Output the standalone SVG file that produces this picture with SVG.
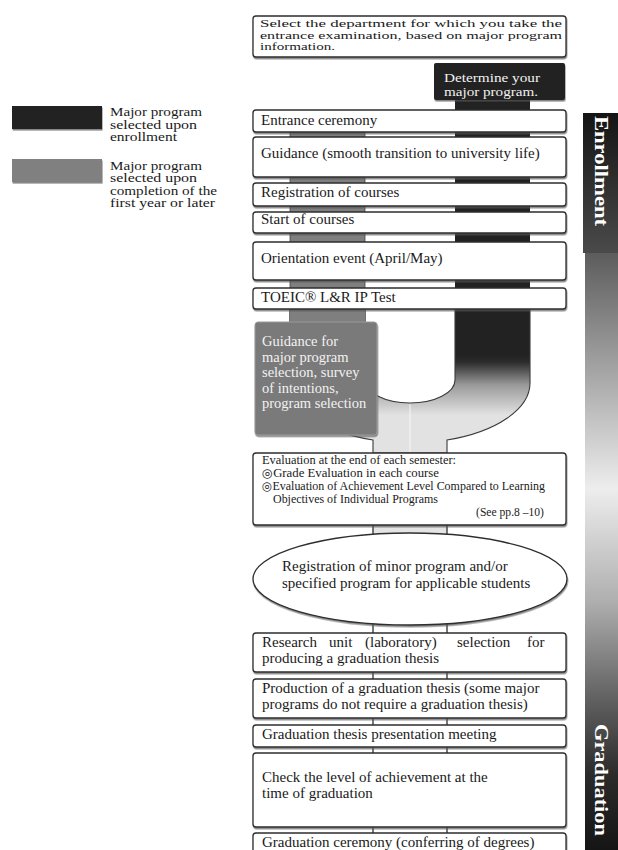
<svg xmlns="http://www.w3.org/2000/svg" width="618" height="850" viewBox="0 0 618 850">
<defs>
  <style>
    text { font-family: "Liberation Serif", "DejaVu Serif", "Noto Sans CJK JP", serif; fill: #1a1a1a; }
    .t15 { font-size: 15px; }
    .t14 { font-size: 14.5px; }
    .t13 { font-size: 13px; }
    .t11 { font-size: 11px; }
    .ev { font-size: 11.6px; }
    .leg { font-size: 12px; }
    .box { fill: #ffffff; stroke: #2e2e2e; stroke-width: 1.3; filter: url(#sh); }
    .tick { stroke: #2e2e2e; stroke-width: 1.3; }
    .side { font-size: 19px; font-weight: bold; fill: #ffffff; }
    .wt { fill: #f2f2f2; }
  </style>
  <filter id="sh" x="-5%" y="-20%" width="110%" height="150%">
    <feDropShadow dx="0.6" dy="1.6" stdDeviation="0.6" flood-color="#555" flood-opacity="0.7"/>
  </filter>
  <linearGradient id="ug" gradientUnits="userSpaceOnUse" x1="0" y1="355" x2="0" y2="415">
    <stop offset="0" stop-color="#222222"/>
    <stop offset="0.12" stop-color="#2c2c2c"/>
    <stop offset="0.5" stop-color="#9a9a9a"/>
    <stop offset="1" stop-color="#e2e2e2"/>
  </linearGradient>
  <linearGradient id="sg" gradientUnits="userSpaceOnUse" x1="0" y1="113" x2="0" y2="850">
    <stop offset="0" stop-color="#1a1a1a"/>
    <stop offset="0.19" stop-color="#5c5c5c"/>
    <stop offset="0.36" stop-color="#a9a9a9"/>
    <stop offset="0.51" stop-color="#ededed"/>
    <stop offset="0.66" stop-color="#b0b0b0"/>
    <stop offset="0.8" stop-color="#5e5e5e"/>
    <stop offset="0.9" stop-color="#2a2a2a"/>
    <stop offset="1" stop-color="#151515"/>
  </linearGradient>
  <linearGradient id="eg" x1="0" y1="0" x2="0" y2="1">
    <stop offset="0" stop-color="#141414"/>
    <stop offset="1" stop-color="#4a4a4a"/>
  </linearGradient>
</defs>

<rect width="618" height="850" fill="#ffffff"/>

<!-- sidebar -->
<g id="sidebar">
  <rect x="585" y="113" width="33" height="737" fill="url(#sg)"/>
  <rect x="583" y="113" width="35" height="140" fill="url(#eg)"/>
  <text class="side" transform="translate(595,116) rotate(90)" textLength="110" lengthAdjust="spacingAndGlyphs">Enrollment</text>
  <text class="side" transform="translate(595,724) rotate(90)" textLength="112" lengthAdjust="spacingAndGlyphs">Graduation</text>
</g>

<!-- legend -->
<g id="legend">
  <rect x="12" y="106" width="90" height="23" fill="#222222" filter="url(#sh)"/>
  <text class="leg" x="110" y="116" textLength="92" lengthAdjust="spacingAndGlyphs">Major program</text>
  <text class="leg" x="110" y="128.5" textLength="87" lengthAdjust="spacingAndGlyphs">selected upon</text>
  <text class="leg" x="110" y="141" textLength="67" lengthAdjust="spacingAndGlyphs">enrollment</text>
  <rect x="12" y="159" width="90" height="23" fill="#808080" filter="url(#sh)"/>
  <text class="leg" x="110" y="169.5" textLength="92" lengthAdjust="spacingAndGlyphs">Major program</text>
  <text class="leg" x="110" y="182" textLength="87" lengthAdjust="spacingAndGlyphs">selected upon</text>
  <text class="leg" x="110" y="194.5" textLength="107" lengthAdjust="spacingAndGlyphs">completion of the</text>
  <text class="leg" x="110" y="207" textLength="105" lengthAdjust="spacingAndGlyphs">first year or later</text>
</g>

<!-- connectors / flow bands -->
<g id="connectors">
  <rect x="455" y="100" width="75" height="212" fill="#222222"/>
  <rect x="290" y="132" width="75" height="192" fill="#7f7f7f" stroke="#444" stroke-width="0.8"/>
  <path d="M 455 309 V 380 A 45 23 0 0 1 365 380 V 309 H 290 V 383 A 120 60 0 0 0 373 440 V 453 H 447 V 440 A 120 60 0 0 0 530 383 V 309 Z" fill="url(#ug)" stroke="#3a3a3a" stroke-width="1.1"/>
  <rect x="290" y="305" width="75" height="19" fill="#7f7f7f"/>
  <line x1="410" y1="404" x2="410" y2="452" stroke="#f7f7f7" stroke-width="1"/>
  <rect x="373" y="520" width="74" height="16" fill="#e4e4e4" stroke="#2e2e2e" stroke-width="1.3"/>
  <line class="tick" x1="373" y1="620" x2="373" y2="634"/>
  <line class="tick" x1="447" y1="620" x2="447" y2="634"/>
  <line class="tick" x1="373" y1="671" x2="373" y2="680"/>
  <line class="tick" x1="447" y1="671" x2="447" y2="680"/>
  <line class="tick" x1="373" y1="717" x2="373" y2="726"/>
  <line class="tick" x1="447" y1="717" x2="447" y2="726"/>
  <line class="tick" x1="373" y1="746" x2="373" y2="754"/>
  <line class="tick" x1="447" y1="746" x2="447" y2="754"/>
  <line class="tick" x1="373" y1="826" x2="373" y2="834"/>
  <line class="tick" x1="447" y1="826" x2="447" y2="834"/>
</g>

<g id="n-select">
  <rect class="box" x="253" y="16" width="313" height="41" rx="3"/>
  <text class="t11" x="260" y="27" textLength="302" lengthAdjust="spacingAndGlyphs">Select the department for which you take the</text>
  <text class="t11" x="260" y="38.5" textLength="302" lengthAdjust="spacingAndGlyphs">entrance examination, based on major program</text>
  <text class="t11" x="260" y="50" textLength="75" lengthAdjust="spacingAndGlyphs">information.</text>
</g>

<g id="n-determine">
  <rect x="434" y="63" width="131" height="37" rx="2" fill="#222222" filter="url(#sh)"/>
  <text class="t13 wt" x="444" y="81.5" textLength="96" lengthAdjust="spacingAndGlyphs">Determine your</text>
  <text class="t13 wt" x="444" y="95.5" textLength="94" lengthAdjust="spacingAndGlyphs">major program.</text>
</g>

<g id="n-entrance">
  <rect class="box" x="253" y="110" width="313" height="22" rx="3"/>
  <text class="t15" x="261" y="125">Entrance ceremony</text>
</g>

<g id="n-guidance">
  <rect class="box" x="253" y="137" width="313" height="40" rx="3"/>
  <text class="t15" x="261" y="158">Guidance (smooth transition to university life)</text>
</g>

<g id="n-registration">
  <rect class="box" x="253" y="183" width="313" height="23" rx="3"/>
  <text class="t15" x="261" y="197">Registration of courses</text>
</g>

<g id="n-start">
  <rect class="box" x="253" y="212" width="313" height="21" rx="3"/>
  <text class="t15" x="261" y="224">Start of courses</text>
</g>

<g id="n-orientation">
  <rect class="box" x="253" y="242" width="313" height="38" rx="3"/>
  <text class="t15" x="261" y="263">Orientation event (April/May)</text>
</g>

<g id="n-toeic">
  <rect class="box" x="253" y="288" width="313" height="21" rx="3"/>
  <text class="t15" x="261" y="302">TOEIC® L&amp;R IP Test</text>
</g>

<g id="n-selection">
  <rect x="255" y="322" width="122" height="113" rx="3" fill="#7a7a7a" stroke="#9a9a9a" stroke-width="1" filter="url(#sh)"/>
  <text class="t14 wt" x="262" y="346">Guidance for</text>
  <text class="t14 wt" x="262" y="361.5">major program</text>
  <text class="t14 wt" x="262" y="377">selection, survey</text>
  <text class="t14 wt" x="262" y="392.5">of intentions,</text>
  <text class="t14 wt" x="262" y="408">program selection</text>
</g>

<g id="n-evaluation">
  <rect class="box" x="253" y="453" width="313" height="72" rx="3"/>
  <text class="ev" x="262" y="464" textLength="194" lengthAdjust="spacingAndGlyphs">Evaluation at the end of each semester:</text>
  <text class="ev" x="262" y="477" textLength="177" lengthAdjust="spacingAndGlyphs">◎Grade Evaluation in each course</text>
  <text class="ev" x="262" y="490" textLength="283" lengthAdjust="spacingAndGlyphs">◎Evaluation of Achievement Level Compared to Learning</text>
  <text class="ev" x="273" y="503" textLength="165" lengthAdjust="spacingAndGlyphs">Objectives of Individual Programs</text>
  <text class="ev" x="544" y="516" text-anchor="end">(See pp.8 –10)</text>
</g>

<g id="n-minor">
  <ellipse class="box" cx="410" cy="579" rx="157" ry="46"/>
  <text class="t15" x="282" y="571">Registration of minor program and/or</text>
  <text class="t15" x="282" y="588">specified program for applicable students</text>
</g>

<g id="n-research">
  <rect class="box" x="253" y="633" width="313" height="39" rx="3"/>
  <text class="t15" y="647"><tspan x="262">Research</tspan><tspan x="329">unit</tspan><tspan x="365">(laboratory)</tspan><tspan x="457">selection</tspan><tspan x="527">for</tspan></text>
  <text class="t15" x="262" y="663">producing a graduation thesis</text>
</g>

<g id="n-production">
  <rect class="box" x="253" y="679" width="313" height="39" rx="3"/>
  <text class="t15" x="262" y="693">Production of a graduation thesis (some major</text>
  <text class="t15" x="262" y="709">programs do not require a graduation thesis)</text>
</g>

<g id="n-presentation">
  <rect class="box" x="253" y="725" width="313" height="22" rx="3"/>
  <text class="t15" x="262" y="739">Graduation thesis presentation meeting</text>
</g>

<g id="n-check">
  <rect class="box" x="253" y="753" width="313" height="74" rx="3"/>
  <text class="t15" x="262" y="782">Check the level of achievement at the</text>
  <text class="t15" x="262" y="798">time of graduation</text>
</g>

<g id="n-ceremony">
  <rect class="box" x="253" y="833" width="313" height="24" rx="3"/>
  <text class="t15" x="262" y="847">Graduation ceremony (conferring of degrees)</text>
</g>
</svg>
